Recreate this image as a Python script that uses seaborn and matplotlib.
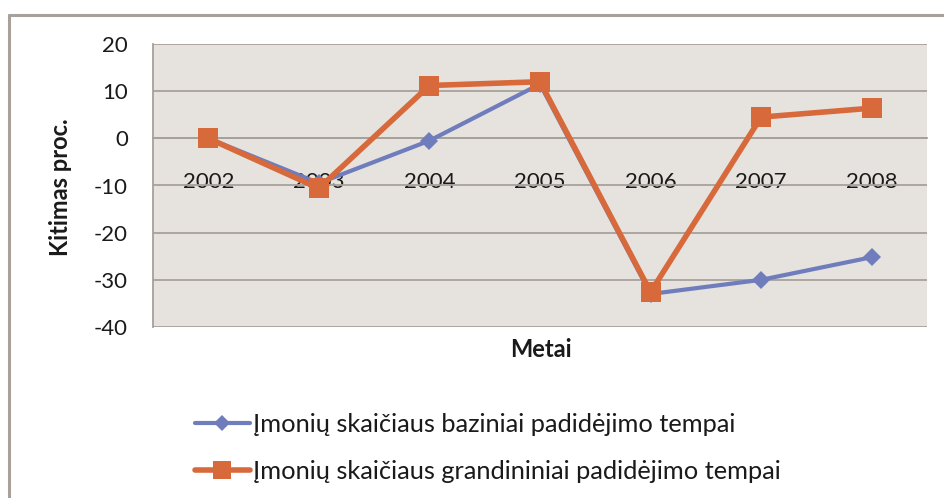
import numpy as np
import pandas as pd
import seaborn as sns
import matplotlib.pyplot as plt
from matplotlib.lines import Line2D
from matplotlib.ticker import FixedLocator

# ---- data ----
years = ['2002', '2003', '2004', '2005', '2006', '2007', '2008']
bazinis = [0.0, -9.5, -0.5, 11.5, -33.0, -30.0, -25.2]
grandininis = [0.0, -10.6, 11.2, 12.0, -32.6, 4.5, 6.4]
series_names = ['Įmonių skaičiaus baziniai padidėjimo tempai',
                'Įmonių skaičiaus grandininiai padidėjimo tempai']
y_ticks = [20, 10, 0, -10, -20, -30, -40]
x_title = 'Metai'
y_title = 'Kitimas proc.'

sns.set_theme(style='white')
plt.rcParams['font.family'] = ['Lato', 'DejaVu Sans']

df = pd.DataFrame({
    'Metai': years * 2,
    'value': bazinis + grandininis,
    'series': [series_names[0]] * len(years) + [series_names[1]] * len(years),
})
df['pos'] = df['Metai'].map({y: i for i, y in enumerate(years)})

BLUE = '#6F7DBC'
ORANGE = '#D7693B'
GRID = '#A8A09A'
TXT = '#1a1a1a'

fig = plt.figure(figsize=(9.44, 4.98), dpi=100)
ax = fig.add_axes([153 / 944, 1 - 327 / 498, 774 / 944, 283 / 498])
ax.set_facecolor('#E6E2DE')

sns.lineplot(data=df[df['series'] == series_names[0]], x='pos', y='value',
             color=BLUE, lw=3, marker='D', markersize=9, markeredgewidth=0,
             ax=ax, legend=False, zorder=3)
sns.lineplot(data=df[df['series'] == series_names[1]], x='pos', y='value',
             color=ORANGE, lw=4, marker='s', markersize=14, markeredgewidth=0,
             ax=ax, legend=False, zorder=4)

ax.set_xlim(-0.5, len(years) - 0.5)
ax.set_ylim(min(y_ticks), max(y_ticks))
ax.set_yticks(y_ticks)
ax.set_yticklabels([str(v) for v in y_ticks])
ax.yaxis.grid(True, color=GRID, lw=1.3)
ax.set_axisbelow(True)

ax.set_xticks(range(len(years)))
ax.set_xticklabels(years)
ax.xaxis.set_minor_locator(FixedLocator(np.arange(0.5, len(years), 1.0)))
ax.tick_params(axis='x', which='major', length=0, pad=24, labelsize=16, labelcolor=TXT)
ax.tick_params(axis='x', which='minor', length=7, width=1.3, color=GRID, direction='out')
ax.tick_params(axis='y', length=6, width=1.3, color=GRID, pad=12, labelsize=16, labelcolor=TXT)

for s in ['top', 'right']:
    ax.spines[s].set_visible(False)
ax.spines['left'].set_color(GRID)
ax.spines['left'].set_linewidth(1.3)
ax.spines['bottom'].set_position(('data', 0))
ax.spines['bottom'].set_color(GRID)
ax.spines['bottom'].set_linewidth(1.3)
ax.set_xlabel('')
ax.set_ylabel('')

fig.text(541 / 944, 1 - 349 / 498, x_title, ha='center', va='center',
         fontsize=17, fontweight='bold', color=TXT)
fig.text(60 / 944, 1 - 187 / 498, y_title, ha='center', va='center',
         rotation=90, fontsize=17, fontweight='bold', color=TXT)

# chart frame (cut off at right and bottom)
fig.add_artist(Line2D([9 / 944, 9 / 944], [0, 1 - 15 / 498], color=GRID, lw=2.2))
fig.add_artist(Line2D([9 / 944, 1], [1 - 15 / 498, 1 - 15 / 498], color=GRID, lw=2.2))

handles = [
    Line2D([], [], color=BLUE, lw=3, marker='D', markersize=8, markeredgewidth=0),
    Line2D([], [], color=ORANGE, lw=4, marker='s', markersize=13, markeredgewidth=0),
]
fig.legend(handles, series_names, loc='upper left',
           bbox_to_anchor=(195 / 944, 1 - 413 / 498), frameon=False,
           fontsize=18.3, handlelength=2.15, handletextpad=0.15,
           labelspacing=0.95, borderpad=0, borderaxespad=0, labelcolor=TXT)

fig.savefig('out.png', dpi=100)
